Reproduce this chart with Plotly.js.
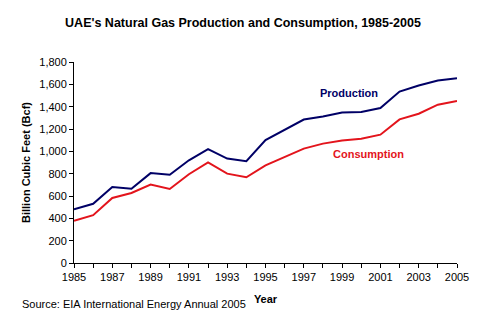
<!DOCTYPE html>
<html><head><meta charset="utf-8">
<script src="https://cdn.plot.ly/plotly-3.0.1.min.js"></script>
<style>html,body{margin:0;padding:0;background:#fff}#chart{width:486px;height:327px}</style>
</head><body><div id="chart"></div>
<script>
const years = [1985,1986,1987,1988,1989,1990,1991,1992,1993,1994,1995,1996,1997,1998,1999,2000,2001,2002,2003,2004,2005];
const production = [480,530,680,665,805,790,920,1020,935,912,1100,1190,1285,1312,1348,1352,1388,1535,1590,1635,1655];
const consumption = [378,428,582,627,702,663,795,900,800,768,875,952,1024,1069,1098,1113,1149,1286,1337,1418,1450];
const yTicks = [0,200,400,600,800,1000,1200,1400,1600,1800];

const font = "Liberation Sans, Arial, sans-serif";
const data = [
  {x: years, y: production, mode: 'lines', line: {color: '#000066', width: 2}, name: 'Production'},
  {x: years, y: consumption, mode: 'lines', line: {color: '#e3141c', width: 2}, name: 'Consumption'}
];
const layout = {
  width: 486, height: 327,
  margin: {l: 74, r: 29, t: 62, b: 64},
  paper_bgcolor: '#fff', plot_bgcolor: '#fff',
  showlegend: false,
  font: {family: font, size: 11, color: '#000'},
  title: {text: "<b>UAE's Natural Gas Production and Consumption, 1985-2005</b>",
          font: {family: font, size: 12.5, color: '#000'}, x: 0.5, xanchor: 'center', y: 0.93, yanchor: 'middle'},
  xaxis: {
    range: [1985, 2005], tick0: 1985, dtick: 2, tickmode: 'linear',
    ticks: 'outside', ticklen: 4, tickcolor: '#000', showline: true, linecolor: '#000', linewidth: 1,
    showgrid: false, zeroline: false, tickfont: {size: 11},
    minor: {dtick: 1, tick0: 1985, ticks: 'outside', ticklen: 4, tickcolor: '#000', showgrid: false},
    title: {text: '<b>Year</b>', font: {size: 11}, standoff: 13}
  },
  yaxis: {
    range: [0, 1800], tickvals: yTicks, tickformat: ',d',
    ticks: 'outside', ticklen: 4, tickcolor: '#000', showline: true, linecolor: '#000', linewidth: 1,
    showgrid: false, zeroline: false, tickfont: {size: 11},
    title: {text: '<b>Billion Cubic Feet (Bcf)</b>', font: {size: 11}, standoff: 6}
  },
  annotations: [
    {text: '<b>Production</b>', x: 2001.0, y: 1520, xref: 'x', yref: 'y', showarrow: false,
     font: {family: font, size: 11, color: '#000066'}, xanchor: 'right'},
    {text: '<b>Consumption</b>', x: 1998.4, y: 977, xref: 'x', yref: 'y', showarrow: false,
     font: {family: font, size: 11, color: '#e3141c'}, xanchor: 'left'},
    {text: 'Source: EIA International Energy Annual 2005', xref: 'paper', yref: 'paper',
     x: -0.14, y: -0.205, xanchor: 'left', yanchor: 'middle', showarrow: false,
     font: {family: font, size: 11, color: '#000'}}
  ]
};
Plotly.newPlot('chart', data, layout, {displayModeBar: false, staticPlot: true});
</script></body></html>
